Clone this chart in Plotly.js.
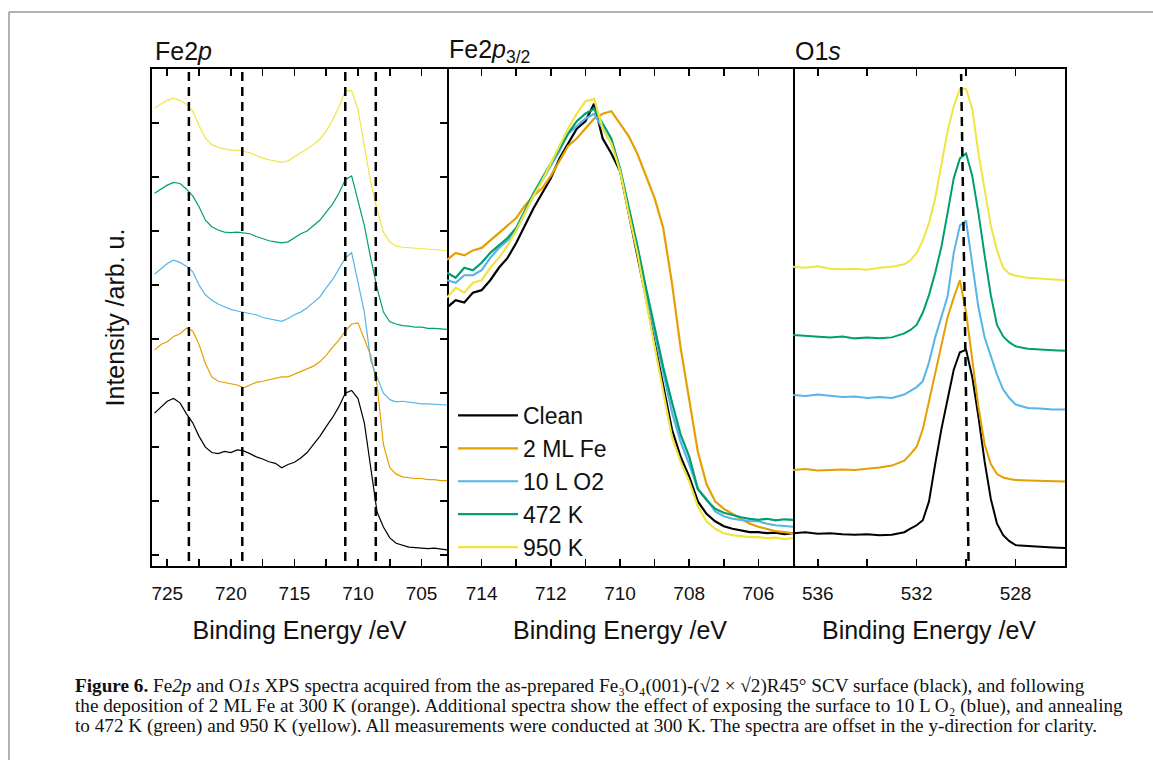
<!DOCTYPE html>
<html>
<head>
<meta charset="utf-8">
<script src="https://cdn.plot.ly/plotly-3.0.1.min.js"></script>
<style>html,body{margin:0;padding:0;background:#fff;}#chart{width:1153px;height:760px;}</style>
</head>
<body>
<div id="chart"></div>
<script>
// ---------- Data ----------
const seriesNames = ["Clean", "2 ML Fe", "10 L O2", "472 K", "950 K"];
const seriesColors = ["#000000", "#E69F00", "#56B4E9", "#009E73", "#F0E442"];

// Panel 1: Fe2p (offset spectra)
const fe2pX = [726,725.5,725,724.5,724,723.5,723,722.5,722,721.5,721,720.5,720,719.5,719,718.5,718,717.5,717,716.5,716,715.5,715,714.5,714,713.5,713,712.5,712,711.5,711,710.5,710,709.5,709,708.5,708,707.5,707,706.5,706,705.5,705,704.5,704,703.5,703];
const fe2pClean = [2.63,2.75,2.85,2.9,2.82,2.62,2.45,2.2,2.0,1.9,1.88,1.92,1.9,1.95,1.93,1.88,1.82,1.78,1.73,1.7,1.62,1.68,1.72,1.8,1.9,2.05,2.2,2.38,2.55,2.75,3.0,3.05,2.9,2.45,1.6,0.8,0.52,0.32,0.22,0.18,0.15,0.14,0.13,0.12,0.13,0.11,0.1];
const fe2pFe = [3.8,3.9,3.95,4.05,4.1,4.2,4.15,3.9,3.55,3.3,3.22,3.2,3.18,3.15,3.1,3.15,3.2,3.22,3.25,3.28,3.3,3.3,3.35,3.4,3.45,3.5,3.58,3.7,3.85,3.98,4.15,4.28,4.3,4.0,3.7,3.15,2.05,1.62,1.5,1.45,1.43,1.42,1.42,1.4,1.4,1.38,1.38];
const fe2pO2 = [5.2,5.3,5.4,5.46,5.42,5.35,5.25,5.0,4.82,4.72,4.65,4.6,4.55,4.52,4.5,4.48,4.45,4.4,4.38,4.35,4.33,4.38,4.45,4.5,4.58,4.68,4.78,4.95,5.1,5.3,5.5,5.6,5.05,4.5,3.6,3.3,3.0,2.88,2.84,2.85,2.83,2.82,2.8,2.8,2.79,2.78,2.78];
const fe2p472 = [6.7,6.78,6.85,6.9,6.88,6.78,6.65,6.45,6.2,6.08,6.02,5.98,5.97,5.98,5.96,5.95,5.9,5.86,5.82,5.8,5.78,5.8,5.88,5.95,6.0,6.1,6.2,6.35,6.5,6.7,6.95,7.02,6.55,6.1,5.5,4.95,4.5,4.32,4.28,4.25,4.24,4.22,4.22,4.2,4.2,4.19,4.18];
const fe2p950 = [8.28,8.35,8.42,8.46,8.42,8.35,8.22,7.95,7.72,7.6,7.55,7.52,7.5,7.5,7.48,7.45,7.4,7.35,7.32,7.3,7.27,7.3,7.38,7.45,7.52,7.6,7.7,7.85,8.05,8.3,8.6,8.6,8.25,7.55,6.9,6.4,5.98,5.8,5.72,5.7,5.69,5.68,5.67,5.66,5.66,5.65,5.64];
const fe2pRefLines = [723.3, 719.1, 711.0, 708.6];

// Panel 2: Fe2p3/2 (overlaid)
const fe32X = [715,714.75,714.5,714.25,714,713.75,713.5,713.25,713,712.75,712.5,712.25,712,711.75,711.5,711.25,711,710.75,710.5,710.25,710,709.75,709.5,709.25,709,708.75,708.5,708.25,708,707.75,707.5,707.25,707,706.75,706.5,706.25,706,705.75,705.5,705.25,705];
const fe32Clean = [5.2,5.35,5.3,5.5,5.55,5.75,6.0,6.2,6.5,6.85,7.2,7.5,7.8,8.2,8.5,8.8,8.95,9.3,8.6,8.3,7.95,7.1,6.3,5.4,4.5,3.65,2.75,2.2,1.8,1.3,1.05,0.9,0.8,0.75,0.72,0.68,0.68,0.66,0.67,0.64,0.66];
const fe32Fe = [6.16,6.3,6.25,6.35,6.4,6.55,6.7,6.85,7.0,7.25,7.45,7.6,7.85,8.15,8.45,8.6,8.8,9.0,9.1,9.15,8.9,8.65,8.3,7.85,7.4,6.8,5.7,4.4,3.35,2.3,1.65,1.3,1.15,1.05,0.95,0.85,0.79,0.75,0.7,0.68,0.66];
const fe32O2 = [5.75,5.7,5.85,5.85,5.95,6.2,6.4,6.55,6.75,7.1,7.45,7.75,8.05,8.35,8.7,8.85,9.0,9.1,8.8,8.5,8.0,7.2,6.4,5.5,4.7,3.9,3.1,2.5,2.05,1.55,1.35,1.1,1.0,0.95,0.92,0.9,0.9,0.85,0.82,0.8,0.79];
const fe32472 = [5.9,5.8,6.0,5.95,6.1,6.3,6.45,6.6,6.8,7.15,7.5,7.8,8.1,8.4,8.7,8.95,9.1,9.2,8.9,8.6,8.0,7.25,6.45,5.6,4.8,4.0,3.3,2.65,2.2,1.55,1.33,1.15,1.07,1.02,0.98,0.95,0.93,0.95,0.92,0.94,0.93];
const fe32950 = [5.4,5.6,5.5,5.7,5.75,6.0,6.2,6.45,6.75,7.1,7.45,7.75,8.1,8.45,8.8,9.1,9.35,9.4,8.8,8.5,7.95,7.1,6.3,5.35,4.4,3.5,2.6,2.1,1.7,1.2,0.9,0.75,0.66,0.62,0.6,0.58,0.58,0.56,0.57,0.54,0.56];

// Panel 3: O1s (offset spectra)
const o1sX = [537,536.5,536,535.5,535,534.5,534,533.5,533,532.5,532.25,532,531.75,531.5,531.25,531,530.75,530.5,530.25,530,529.75,529.5,529.25,529,528.75,528.5,528.25,528,527.5,527,526.5,526];
const o1sClean = [0.66,0.68,0.65,0.66,0.64,0.63,0.64,0.62,0.63,0.68,0.75,0.82,0.92,1.3,2.05,2.75,3.35,3.95,4.3,4.35,3.8,3.0,2.1,1.35,0.85,0.62,0.5,0.42,0.4,0.38,0.37,0.36];
const o1sFe = [1.93,1.95,1.92,1.93,1.94,1.93,1.95,1.98,2.02,2.12,2.25,2.4,2.75,3.3,3.9,4.45,5.0,5.4,5.75,5.1,4.2,3.2,2.45,2.05,1.85,1.78,1.75,1.73,1.72,1.71,1.7,1.7];
const o1sO2 = [3.44,3.42,3.45,3.42,3.4,3.41,3.38,3.4,3.38,3.45,3.52,3.6,3.72,4.1,4.6,5.0,5.42,6.3,6.85,6.95,6.1,5.2,4.6,4.2,3.85,3.55,3.38,3.25,3.18,3.17,3.15,3.15];
const o1s472 = [4.65,4.63,4.62,4.6,4.62,4.58,4.6,4.58,4.6,4.68,4.75,4.85,5.1,5.45,5.9,6.42,7.1,7.8,8.2,8.3,7.85,7.1,6.25,5.45,4.85,4.62,4.5,4.42,4.37,4.35,4.34,4.33];
const o1s950 = [6.02,6.0,6.03,5.98,5.97,5.98,5.96,6.0,6.02,6.07,6.15,6.3,6.55,6.9,7.4,8.1,8.75,9.25,9.6,9.6,9.2,8.3,7.55,6.85,6.35,6.0,5.88,5.84,5.8,5.78,5.76,5.75];
const o1sRefLine = [529.9, 530.2]; // bottom, top

// ---------- Build ----------
const W = 1153, H = 760;
const px = v => v / W;
const py = v => 1 - v / H;

const fe2pSets = [fe2pClean, fe2pFe, fe2pO2, fe2p472, fe2p950];
const fe32Sets = [fe32Clean, fe32Fe, fe32O2, fe32472, fe32950];
const o1sSets = [o1sClean, o1sFe, o1sO2, o1s472, o1s950];

const traces = [];
fe2pSets.forEach((ys, i) => traces.push({x: fe2pX, y: ys, xaxis: 'x', yaxis: 'y', type: 'scatter', mode: 'lines',
  line: {color: seriesColors[i], width: 1.2}, name: seriesNames[i], showlegend: false, hoverinfo: 'skip'}));
fe32Sets.forEach((ys, i) => traces.push({x: fe32X, y: ys, xaxis: 'x2', yaxis: 'y2', type: 'scatter', mode: 'lines',
  line: {color: seriesColors[i], width: 2.2}, name: seriesNames[i], showlegend: true}));
o1sSets.forEach((ys, i) => traces.push({x: o1sX, y: ys, xaxis: 'x3', yaxis: 'y3', type: 'scatter', mode: 'lines',
  line: {color: seriesColors[i], width: 2}, name: seriesNames[i], showlegend: false, hoverinfo: 'skip'}));

const FONT = 'Liberation Sans, Arial, sans-serif';
const yDom = [py(566), py(69)];
const tickCommon = {
  showline: true, linecolor: '#000', linewidth: 2, mirror: 'ticks',
  ticks: 'inside', ticklen: 7, tickwidth: 1.6, tickcolor: '#000',
  showgrid: false, zeroline: false, ticklabelstandoff: 9,
  tickfont: {family: FONT, size: 19, color: '#111'}
};
const xTitle = {text: 'Binding Energy /eV', font: {family: FONT, size: 25, color: '#111'}, standoff: 19};
const bareY = {range: [0, 10], side: 'right', showline: true, linecolor: '#000', linewidth: 2, mirror: false,
  ticks: '', showticklabels: false, showgrid: false, zeroline: false};

const layout = {
  width: W, height: H,
  margin: {l: 0, r: 0, t: 0, b: 0},
  paper_bgcolor: '#fff', plot_bgcolor: 'rgba(0,0,0,0)',
  showlegend: true,
  legend: {x: px(453), y: py(394), xanchor: 'left', yanchor: 'top', bgcolor: 'rgba(0,0,0,0)',
    font: {family: FONT, size: 23, color: '#111'}, itemwidth: 60, tracegroupgap: 0},
  xaxis: Object.assign({}, tickCommon, {domain: [px(152), px(447)], anchor: 'y', range: [726.2, 703.0],
    tick0: 0, dtick: 5, minor: {dtick: 2.5, ticks: 'inside', ticklen: 7, tickwidth: 1.6, tickcolor: '#000'}, title: xTitle}),
  yaxis: Object.assign({}, tickCommon, {domain: yDom, anchor: 'x', range: [-0.2, 9.0], tick0: 0, dtick: 1,
    showticklabels: false,
    title: {text: 'Intensity /arb. u.', font: {family: FONT, size: 25, color: '#111'}, standoff: 18}}),
  xaxis2: Object.assign({}, tickCommon, {domain: [px(447), px(793)], anchor: 'y2', range: [715, 705],
    tick0: 0, dtick: 2, minor: {dtick: 1, ticks: 'inside', ticklen: 7, tickwidth: 1.6, tickcolor: '#000'}, title: xTitle}),
  yaxis2: Object.assign({}, bareY, {domain: yDom, anchor: 'x2'}),
  xaxis3: Object.assign({}, tickCommon, {domain: [px(793), px(1065)], anchor: 'y3', range: [537, 526],
    tick0: 0, dtick: 4, minor: {dtick: 2, ticks: 'inside', ticklen: 7, tickwidth: 1.6, tickcolor: '#000'}, title: xTitle}),
  yaxis3: Object.assign({}, bareY, {domain: yDom, anchor: 'x3'}),
  shapes: [],
  annotations: []
};

// dashed reference lines
fe2pRefLines.forEach(e => layout.shapes.push({type: 'line', xref: 'x', yref: 'y domain', x0: e, x1: e, y0: 0.01, y1: 1,
  line: {color: '#000', width: 2.5, dash: '9px,6px'}}));
layout.shapes.push({type: 'line', xref: 'x3', yref: 'y3 domain', x0: o1sRefLine[0], x1: o1sRefLine[1], y0: 0.01, y1: 0.99,
  line: {color: '#000', width: 2.5, dash: '9px,6px'}});

// outer frame (left and top edges)
layout.shapes.push({type: 'line', xref: 'paper', yref: 'paper', x0: px(9), x1: px(9), y0: 0, y1: py(12), line: {color: '#999', width: 1.5}});
layout.shapes.push({type: 'line', xref: 'paper', yref: 'paper', x0: px(9), x1: 1, y0: py(12), y1: py(12), line: {color: '#999', width: 1.5}});

// panel titles
const panelTitles = [['Fe2<i>p</i>', 153], ['Fe2<i>p</i><sub>3/2</sub>', 447], ['O1<i>s</i>', 793]];
panelTitles.forEach(([t, x]) => layout.annotations.push({text: t, xref: 'paper', yref: 'paper', x: px(x), y: py(51),
  xanchor: 'left', yanchor: 'middle', showarrow: false, font: {family: FONT, size: 25, color: '#111'}}));

// caption
const captionLines = [
  '<b>Figure 6.</b> Fe<i>2p</i> and O<i>1s</i> XPS spectra acquired from the as-prepared Fe₃O₄(001)-(√2 × √2)R45° SCV surface (black), and following',
  'the deposition of 2 ML Fe at 300 K (orange). Additional spectra show the effect of exposing the surface to 10 L O₂ (blue), and annealing',
  'to 472 K (green) and 950 K (yellow). All measurements were conducted at 300 K. The spectra are offset in the y-direction for clarity.'
];
const captionY = [686, 706, 726];
captionLines.forEach((t, i) => layout.annotations.push({text: t, xref: 'paper', yref: 'paper', x: px(73), y: py(captionY[i]),
  xanchor: 'left', yanchor: 'middle', showarrow: false, font: {family: 'Liberation Serif, Times New Roman, serif', size: 19.2, color: '#111'}}));

Plotly.newPlot('chart', traces, layout, {displayModeBar: false, staticPlot: true});
</script>
</body>
</html>
